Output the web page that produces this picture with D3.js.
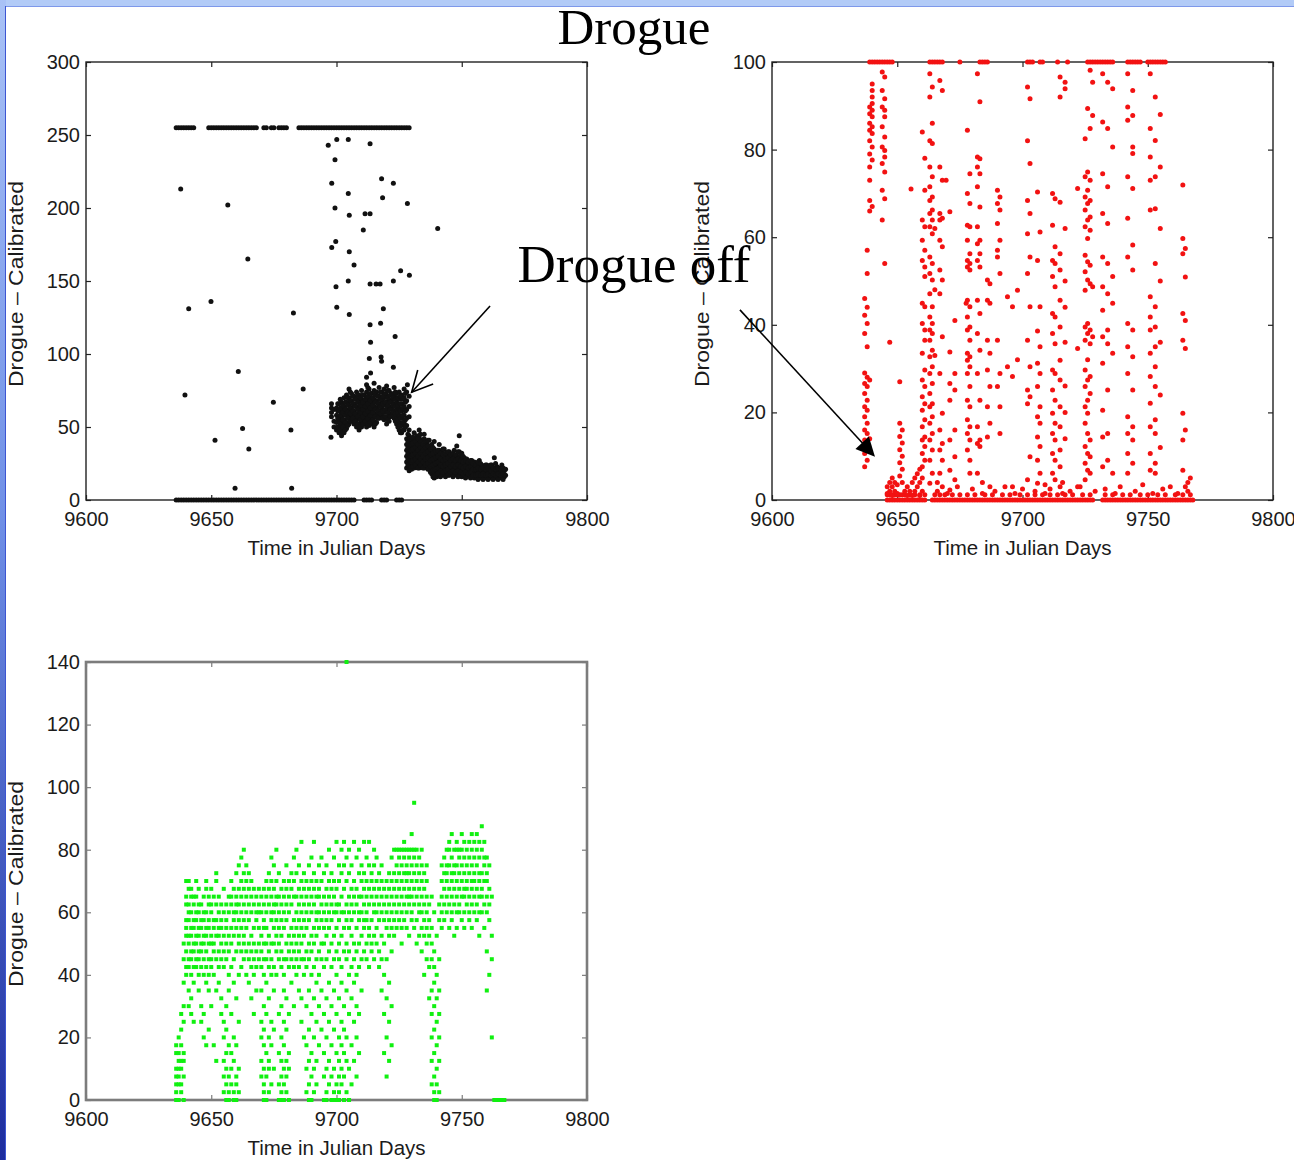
<!DOCTYPE html>
<html>
<head>
<meta charset="utf-8">
<script src="https://cdn.jsdelivr.net/npm/d3@7"></script>
<style>
  html, body { margin: 0; padding: 0; background: #fff; }
  svg { display: block; }
</style>
</head>
<body>
<svg id="fig" width="1294" height="1160"></svg>
<script>
// ---------- axis ticks ----------
const dayTicks = [9600, 9650, 9700, 9750, 9800];
const rawTicks = [0, 50, 100, 150, 200, 250, 300];
const filtTicks = [0, 20, 40, 60, 80, 100];
const levelTicks = [0, 20, 40, 60, 80, 100, 120, 140];

// ---------- raw drogue record (black) ----------
// days with saturated readings (255)
const rawHighDays = [9636,9637,9638,9639,9640,9641,9642,9643,
  9649,9650,9651,9652,9653,9654,9655,9656,9657,9658,9659,9660,9661,9662,9663,9664,9665,9666,9667,9668,
  9671,9672,9674,9675,9677,9678,9679,9680,
  9685,9686,9687,9688,9689,9690,9691,9692,9693,9694,9695,9696,9697,9698,9699,9700,9701,9702,9703,9704,
  9705,9706,9707,9708,9709,9710,9711,9712,9713,9714,9715,9716,9717,9718,9719,9720,9721,9722,9723,9724,
  9725,9726,9727,9728,9729];
// days with zero readings
const rawZeroDays = [9636,9637,9638,9639,9640,9641,9642,9643,9644,9645,9646,9647,9648,9649,9650,9651,9652,
  9653,9654,9655,9656,9657,9658,9659,9660,9661,9662,9663,9664,9665,9666,9667,9668,9669,9670,9671,9672,9673,
  9674,9675,9676,9677,9678,9679,9680,9681,9682,9683,9684,9685,9686,9687,9688,9689,9690,9691,9692,9693,9694,
  9695,9696,9697,9698,9699,9700,9701,9702,9703,9704,9705,9706,9707,9711,9712,9713,9714,9718,9719,9720,
  9724,9725,9726];
// isolated readings [day, value]
const rawScatter = [[9696.7,243],[9700.1,247],[9704.7,247],[9713.4,244],[9699.4,233],[9637.8,213],
  [9698.1,217],[9718,220],[9722.7,217],[9704.7,210],[9718.4,207],[9728.3,203],[9656.6,202],[9699.4,200],
  [9705.1,195],[9711.4,196],[9713.4,196],[9710.7,185],[9740.4,186],[9699.7,177],[9698.1,173],[9705.1,170],
  [9664.6,165],[9707,161],[9725.6,157],[9729.1,154],[9699.8,146],[9704.7,150],[9713.4,148],[9715.8,148],
  [9717.4,148],[9722.7,150],[9641,131],[9649.9,136],[9682.8,128],[9700.1,132],[9705.1,127],[9718.7,131],
  [9713.4,120],[9717.6,121],[9723.4,112],[9713.6,108],[9713.1,97],[9717.8,98],[9718,95],[9722.7,91],
  [9712,84],[9713.6,87],[9660.8,88],[9639.5,72],[9686.7,76],[9674.8,67],[9728.3,79],[9662.5,49],
  [9681.8,48],[9651.5,41],[9665,35],[9659.5,8],[9682.1,8],[9697.8,43]];
// readings after the drogue loss: [day, values...]
const rawColumns = [
  [9698,57,60,63,66],[9699,50,54,62],[9700,48,53,58,63],[9701,46,50,55,61,66],[9702,44,48,53,57,62,67],
  [9703,46,51,55,60,64,70],[9704,49,53,58,62,67,72],[9705,52,56,61,65,70,76],[9706,54,58,63,68,73],
  [9707,52,57,61,66,71],[9708,50,55,59,64,69,74],[9709,48,52,57,62,67,72],[9710,50,54,59,64,69,75],
  [9711,52,56,61,66,72],[9712,50,54,58,63,68,74,79],[9713,51,55,60,65,70,76],[9714,52,57,62,67,73],
  [9715,50,54,59,64,69,75,80],[9716,53,58,63,68,74],[9717,56,61,66,71,77],[9718,58,63,68,74],
  [9719,55,60,65,70,76],[9720,52,57,62,67,72,78],[9721,54,59,64,69,75],[9722,58,63,68,73],
  [9723,56,61,66,72,77],[9724,52,57,62,67,73],[9725,48,53,58,63,69,74],[9726,46,51,56,61,66,72],
  [9727,48,53,58,64,70,76],[9728,51,56,62,68,74],[9729,57,64,71],
  [9700.5,50,56,61,66],[9701.5,48,52,58,63,69],[9702.5,46,50,55,60,65],[9703.5,48,53,58,62,67],
  [9704.5,51,56,60,65,70],[9705.5,54,59,63,68,74],[9706.5,56,61,66,71],[9707.5,54,59,64,69],
  [9708.5,52,57,62,67,72],[9709.5,50,55,60,65,70],[9710.5,52,57,62,67,72],[9711.5,54,59,64,69],
  [9712.5,52,56,61,66,71,77],[9713.5,53,58,63,68,73],[9714.5,55,60,65,70],[9715.5,52,57,62,67,72],
  [9716.5,56,61,66,71],[9717.5,59,64,69,74],[9718.5,56,61,66,71],[9719.5,57,62,67,73],
  [9720.5,55,60,65,70,75],[9721.5,57,62,67,72],[9722.5,60,65,70],[9723.5,54,59,64,69,74],
  [9724.5,50,55,60,65,70],[9725.5,46,51,56,61,66,71],[9726.5,48,53,58,63,69],[9727.5,50,55,61,67,73],
  [9728,22,26,30,34,38,42],[9729,20,24,28,32,36,40,44,48],[9730,21,25,29,33,37,41],
  [9731,22,26,30,34,38,42,46],[9732,24,28,32,36,40,44],[9733,22,26,30,34,38,43,48],[9734,24,28,32,36,41],
  [9735,22,26,30,34,38,42,45],[9736,23,27,31,35,39],[9737,21,25,29,33,37,41],[9738,18,22,26,30,34,38],
  [9739,15,19,23,27,31,35,40],[9740,16,20,24,28,32],[9741,18,22,26,30,34,38],[9742,17,21,25,29,33],
  [9743,18,22,26,30,35],[9744,19,23,27,31],[9745,17,21,25,29,33],[9746,18,22,26,30],[9747,17,21,25,29,34],
  [9748,18,22,26,30,37],[9749,17,21,25,29,33,44],[9750,16,20,24,28,32],[9751,17,21,25,29],
  [9752,16,20,24,28],[9753,17,21,25],[9754,16,19,23,27],[9755,15,19,22,26],[9756,16,20,24],
  [9757,15,19,23,27],[9758,16,20,24],[9759,15,19,22],[9760,16,20,24],[9761,15,18,22],[9762,16,20,24],
  [9763,15,19,22,29],[9764,16,20,23],[9765,15,19,22],[9766,16,20,24],[9767,16,20],
  [9728.5,24,28,32,36,40,45],[9729.5,22,26,30,34,38,42],[9730.5,23,27,31,35,39,43],
  [9731.5,24,28,32,36,40],[9732.5,22,26,30,34,38,42],[9733.5,24,28,32,36,40,45],[9734.5,22,26,30,34,38],
  [9735.5,24,28,32,36,40],[9736.5,21,25,29,33,37,41],[9737.5,19,23,27,31,35],[9738.5,16,20,24,28,32,36],
  [9739.5,17,21,25,29,33],[9740.5,18,22,26,30,34],[9741.5,16,20,24,28,32],[9742.5,19,23,27,31,35],
  [9743.5,16,20,24,28,32],[9744.5,17,21,25,29,33],[9745.5,19,23,27,31],[9746.5,16,20,24,28,32],
  [9747.5,19,23,27,31],[9748.5,16,20,24,28,33],[9749.5,19,23,27,31],[9750.5,18,22,26,30],
  [9751.5,15,19,23,27],[9752.5,18,22,26],[9753.5,15,19,23,27],[9754.5,17,21,25],[9755.5,17,21,24],
  [9756.5,14,18,22,26],[9757.5,17,21,25],[9758.5,14,18,22],[9759.5,17,21,24],[9760.5,14,18,22],
  [9761.5,17,20,24],[9762.5,14,18,22],[9763.5,17,21,25],[9764.5,14,18,22],[9765.5,17,21],
  [9766.5,14,18,22],[9767.5,17,21]];

// ---------- filtered record (red) ----------
const filtTopDays = [9639,9640,9641,9642,9643,9644,9645,9646,9647,9648,9663,9664,9665,9666,9667,9668,9675,
  9683,9684,9685,9686,9702,9703,9704,9707,9708,9714,9718,9726,9727,9728,9729,9730,9731,9732,9733,9734,
  9735,9736,9742,9743,9744,9745,9746,9747,9750,9751,9752,9753,9754,9755,9756,9757];
const filtZeroDays = [9646,9647,9648,9649,9650,9651,9652,9653,9654,9655,9656,9657,9658,9659,9660,9661,
  9664,9665,9666,9667,9668,9669,9670,9671,9672,9673,9674,9675,9676,9677,9678,9679,9680,9681,9682,9683,
  9684,9685,9686,9687,9688,9689,9690,9691,9692,9693,9694,9695,9696,9697,9698,9699,9700,9701,9702,9703,
  9704,9705,9706,9707,9708,9709,9710,9711,9712,9713,9714,9715,9716,9717,9718,9719,9720,9721,9722,9723,
  9724,9725,9726,9727,9728,9732,9733,9734,9735,9736,9737,9738,9739,9740,9741,9742,9743,9744,9745,9746,
  9747,9748,9749,9750,9751,9752,9753,9754,9755,9756,9757,9758,9759,9760,9761,9762,9763,9764,9765,9766,
  9767,9768];
// days with a reading just above zero
const filtLowDays = [9646,9647,9648,9649,9650,9651,9652,9653,9655,9657,9659,9661,9665,9667,9669,9672,
  9675,9678,9681,9685,9688,9692,9695,9699,9702,9705,9708,9711,9714,9717,9720,9724,9727,9733,9736,9740,
  9743,9747,9750,9754,9757,9761,9764,9767];
const filtColumns = [
  [9637,46,42.2,38,29,26.6,24.3,21.3,19,16,13.7,10.6,7.6],
  [9638,57,51.7,44,40.3,35,28,25.9,22.8,20.5,17.5,15.2,12.2,9.1],
  [9639,89.7,88.2,86,84.4,82,79,76,73,68.4,66,27.4,14],
  [9640,95,93.5,92,90.5,89,87.5,85.2,83.7,80.6,77.6,67],
  [9644,97.7,93.5,89.7,85.2,80.6,76.8,70.7,63.9],
  [9645,96.6,91.6,89,87.5,82.9,79.8,78.3,74.9,68.8,54],
  [9647,36,2,4],[9651,17.5,14.5,11.5,8.5,5.5,27],[9652,16,13,10,7,4],
  [9646,1.5,3],[9648,1,3,5],[9649,2,4],[9650,1.5,3.5],[9653,2],[9654,1,3],[9655,2],[9655.5,71],
  [9656,1,4],[9657,2,5],[9658,3,6],[9659,1,4,7],
  [9660,84,63.9,59.3,54.7,44.9,40.3,33.5,27.4,23.6,20.5,16.7,13.7,10.6,7.6,2,5],
  [9661,78,70.7,62.4,57,53.2,51,44.1,38.8,36.5,29.7,25.9,22,18.3,14.4,12.2,9.1],
  [9663,97.3,92,82,76,71.5,68.4,65.4,62.4,55.5,51.7,47.1,41.8,38.8,36.5,32.7,28.9,24.3,21.3,17.5,13.7,9.1,3.8],
  [9664,94.3,86,81.4,73.8,69.2,66.2,63.9,60.8,54,50.2,44.1,40.3,38,34.2,30.4,26.6,22,19,15.2,11.4,6.1],
  [9665,62,48,33],[9666,2,4],
  [9667,95.8,76,65.4,63.9,59.3,52.5,47.1,28.9,16,11.4,6.1],
  [9668,93.5,73,64.3,57.8,50.2,37.3,19.8,12.9,9.1,3],
  [9669.5,73],[9670,1.5],[9671,65.8,33.8,26.6,22.8,13.7,6.8,2.3],[9673,41,28.9,25.1,16,9.9,4.6],
  [9674,3],[9677.5,44.9],
  [9678,84.4,70,62.7,59.3,54.7,53.2,45.6,41.8,38.8,33.5,31.9,28.9,22.8,18.3,15.2,11.4],
  [9679,74.5,67.7,62.4,56.2,54,52.5,44.1,39.5,36.5,32.7,30.4,25.9,21.3,16.7,13.7,9.1,6.1],
  [9680,2.5],
  [9682,97.3,78.3,76,71.5,62.4,58.5,54.7,45.6,38,28.9,16.7,12.9,6.1],
  [9683,90.9,77.9,74.5,66.9,59.3,56.2,53.2,42.6,34.2,22.8,13.7,12.2],
  [9684,1.5,4],
  [9686,50.2,45.6,36.5,29.7,21.3,14.4],[9687,49.4,44.9,33.5,25.9,17.5,3],
  [9689,2],[9690,70.7,67.7,63.1,57,55.5,36.5,25.9],[9691,69.2,66.2,59.3,51.7,28.9,21.3,15.2],
  [9693,3],[9694,46.4,30.4],[9696,44.1,28.2,3],[9697,1.5],[9698,47.9,32],[9700,2.5],
  [9702,94.3,82,68.4,60.8,51.7,36.5,25.1,22,4.6],[9703,91.6,76.8,65.4,55.5,44.1,30.4,23.6,9.9],
  [9705,2],[9706,70.3,54.7,38.6,31.2,25.9,19,14.4,9.1,3.8],[9707,61.2,44.1,35,28.9,21.3,17.5,12.2,6.1],
  [9709,1.5,3.5],[9711,2.5],
  [9712,70,62.7,54.7,51,42.6,38,29.7,25.1,19.8,15.2,10.6,6.1],
  [9713,68.8,57.8,54,48.7,41.8,35.7,28.9,22.8,17.5,13.7,9.1,4.6],
  [9715,96.6,92,68,56.2,52.5,45.6,39.5,31.9,27.4,21.3,16.7,11.4,7.6,3],
  [9716,1.5,4],[9717,95.4,93.9,62,50,44,36,26,20,14],[9719,2],
  [9722,71.1,34.6,3],[9723,3],
  [9725,82.5,73.8,69.2,66.2,62.4,55.9,52.1,47.9,39.5,36.5,29.7,25.9,21.3,17.5,12.2,8.4,4.6],
  [9726,89.4,74.9,70.7,67.7,63.9,59.7,54.4,50.2,40.3,38,32,27.4,22.8,19.8,15.2,10.6,6.8],
  [9727,98.1,84.8,73,68.4,64.6,61.6,53.6,49.4,38.8,35.7,28.2,24.3,13.7,9.9,6.1],
  [9728,95.4,87.8,48.7,37.3],[9729,2],
  [9732,97.3,86.3,74.5,65.4,55.5,48.7,43.3,37.3,31.2,20.5,14.4,7.6],
  [9733,2.5],[9734,95.4,84.8,71.5,63.1,54,47.1,38.8,35.7,25.1,15.2,9.1],
  [9736,93.9,80.6,51,44.9,33.5,6.1],[9737,1.5],[9739,3],
  [9742,97.3,89.7,86.7,73.8,64.3,55.5,40.3,35,28.9,19,15.2,10.6,6.1],
  [9744,93.5,87.8,80.6,79.1,71.1,58.2,52.5,38.8,32.7,25.1,16.7,13.7,8.4],
  [9745,2],[9748,3.5],
  [9751,97.3,84.8,78.3,73,66.2,46.4,41.8,38.8,33.5,28.2,22.1,16.7,10.6,6.8],
  [9752,1.5],
  [9753,92,82.1,73.8,66.5,54,44.1,39.5,35,30.4,25.9,18.3,15.2,8.4,6.1],
  [9755,88,76,62,50,36,24,12],[9756,2.5],[9759,3],[9762,1.5],
  [9764,71.9,59.7,56.2,42.6,36.5,19.8,13.7,6.8],[9765,57.4,50.9,41,34.6,16,3],[9766,2,4],[9767,5]];

// ---------- level record (green): [day, values...] ----------
const levelColumns = [
  [9636,0,2.5,5,7.5,10,15,17.5],[9637,0,5,7.5,10,12.5,15,20],[9638,2.5,5,10,12.5,17.5,22.5,27.5],
  [9639,0,7.5,12.5,15,25,30,37.5,45,50],[9640,40,42.5,47.5,52.5,55,57.5,62.5,65,70],
  [9641,30,35,42.5,45,50,52.5,57.5,60,62.5,67.5,70],[9642,27.5,32.5,40,45,47.5,52.5,55,60,65,67.5],
  [9643,25,37.5,42.5,47.5,50,55,57.5,62.5,65],[9644,42.5,45,50,52.5,57.5,60,65,70],
  [9645,35,40,45,47.5,52.5,55,60,62.5,67.5],[9646,25,30,42.5,47.5,50,55,57.5,62.5],
  [9647,20,27.5,40,45,50,52.5,57.5,60,65],[9648,17.5,37.5,42.5,47.5,52.5,55,60,67.5,70],
  [9649,22.5,35,40,45,50,55,57.5,62.5,65],[9650,30,42.5,45,50,52.5,60,62.5,67.5],
  [9651,17.5,40,47.5,50,55,57.5,65],[9652,12.5,35,45,52.5,57.5,62.5,70,72.5],
  [9653,37.5,42.5,47.5,52.5,55,60,65],[9654,27.5,32.5,45,50,55,57.5,62.5],
  [9655,2.5,7.5,12.5,20,25,42.5,47.5,52.5,60,67.5],[9656,0,5,10,15,22.5,30,45,50,55,57.5,62.5],
  [9657,0,2.5,7.5,17.5,35,40,47.5,52.5,60,65],[9658,5,10,15,27.5,42.5,50,55,62.5,65,70],
  [9659,0,2.5,12.5,20,37.5,45,52.5,57.5,60,67.5],[9660,0,5,7.5,17.5,32.5,47.5,55,60,62.5,65,72.5],
  [9661,2.5,10,25,40,50,52.5,57.5,62.5,67.5,75],[9662,42.5,47.5,55,60,65,70,77.5],
  [9663,45,50,52.5,57.5,62.5,67.5,72.5,80],[9664,40,47.5,55,60,65,70,75],
  [9665,37.5,45,50,57.5,62.5,67.5,72.5],[9666,32.5,42.5,47.5,52.5,60,65,70],
  [9667,27.5,40,45,50,55,62.5,67.5],[9668,35,42.5,47.5,57.5,60,65],[9669,45,50,55,60,62.5,67.5],
  [9670,7.5,12.5,20,25,35,42.5,47.5,52.5,60,65],
  [9671,0,2.5,5,10,17.5,22.5,30,40,45,50,55,57.5,62.5,67.5],
  [9672,0,7.5,15,27.5,37.5,45,50,55,60,65,70],[9673,2.5,10,12.5,20,32.5,42.5,47.5,52.5,62.5,67.5,72.5],
  [9674,5,17.5,25,40,45,50,57.5,60,65,70,77.5],[9675,10,22.5,35,42.5,50,55,60,62.5,67.5,75],
  [9676,40,47.5,52.5,57.5,62.5,65,70,80],[9677,0,5,15,27.5,45,50,55,60,65,72.5],
  [9678,0,2.5,7.5,12.5,20,30,42.5,47.5,52.5,57.5,62.5,67.5],[9679,0,5,10,17.5,25,35,40,45,55,60,65,70],
  [9680,2.5,7.5,12.5,22.5,32.5,45,50,57.5,62.5,67.5,75],[9681,0,10,15,27.5,42.5,47.5,52.5,60,65,70],
  [9682,37.5,45,50,55,62.5,67.5,72.5],[9683,30,42.5,47.5,52.5,57.5,65,70,77.5],
  [9684,40,45,50,55,60,65,72.5,80],[9685,35,42.5,47.5,52.5,57.5,62.5,67.5,75],
  [9686,25,32.5,45,50,55,60,65,70,82.5],[9687,20,40,45,52.5,57.5,62.5,67.5,72.5],
  [9688,2.5,10,17.5,30,42.5,47.5,55,60,65,70],[9689,0,5,12.5,22.5,35,45,50,57.5,62.5,67.5,75],
  [9690,0,7.5,15,27.5,40,47.5,52.5,60,65,70,77.5],[9691,2.5,10,20,32.5,42.5,50,55,62.5,67.5,72.5,82.5],
  [9692,5,12.5,25,37.5,45,52.5,57.5,60,65,70],[9693,17.5,30,40,47.5,55,60,65,67.5,75],
  [9694,22.5,35,45,50,57.5,62.5,70,77.5],[9695,0,7.5,15,27.5,42.5,50,55,60,65,72.5],
  [9696,0,2.5,10,20,32.5,45,52.5,57.5,62.5,67.5,75],[9697,5,12.5,25,37.5,47.5,55,60,65,70,80],
  [9698,0,7.5,17.5,30,42.5,50,57.5,62.5,67.5,72.5],[9699,0,2.5,10,22.5,35,45,52.5,60,65,70,77.5],
  [9700,0,5,15,27.5,40,47.5,55,60,62.5,67.5,82.5],[9701,0,2.5,7.5,12.5,20,32.5,45,50,57.5,62.5,70,75],
  [9702,5,10,17.5,25,37.5,42.5,52.5,60,65,72.5,80],[9703,0,7.5,15,22.5,30,47.5,55,60,67.5,75,82.5],
  [9704,2.5,12.5,20,35,45,50,57.5,62.5,70,77.5,140],[9705,0,10,27.5,40,47.5,55,60,65,72.5,80],
  [9706,5,17.5,32.5,42.5,52.5,57.5,62.5,67.5,75],[9707,12.5,25,37.5,45,50,60,65,70,82.5],
  [9708,7.5,20,30,40,47.5,55,62.5,67.5,77.5],[9709,15,27.5,42.5,50,57.5,60,65,72.5,80],
  [9710,35,45,52.5,60,65,70,75],[9711,47.5,55,57.5,62.5,67.5,72.5,82.5],[9712,45,50,57.5,60,65,70,77.5],
  [9713,42.5,52.5,55,62.5,67.5,75,82.5],[9714,47.5,50,57.5,65,70,72.5],[9715,45,52.5,60,62.5,67.5,75,80],
  [9716,50,55,60,65,70,77.5],[9717,42.5,47.5,57.5,62.5,67.5,72.5],[9718,35,45,52.5,60,65,70,75],
  [9719,15,27.5,40,50,57.5,62.5,67.5],[9720,7.5,20,32.5,45,55,60,65,70],
  [9721,12.5,25,37.5,52.5,57.5,62.5,67.5,72.5],[9722,17.5,30,47.5,55,60,65,70,77.5],
  [9723,52.5,57.5,62.5,67.5,72.5,80],[9724,55,60,65,70,75,80],[9725,57.5,62.5,67.5,72.5,77.5,80],
  [9726,50,55,60,65,70,75,80],[9727,57.5,62.5,67.5,72.5,77.5,80,82.5],[9728,55,60,65,70,72.5,75,80],
  [9729,52.5,62.5,65,67.5,72.5,77.5,80],[9730,57.5,60,65,70,75,80,85],[9731,55,62.5,67.5,72.5,77.5,80,95],
  [9732,50,57.5,65,70,75,80],[9733,52.5,60,62.5,67.5,72.5,77.5],[9734,47.5,55,60,65,70,75,80],
  [9735,40,52.5,57.5,62.5,67.5,72.5],[9736,45,50,55,60,65,70,75],[9737,32.5,42.5,52.5,57.5,62.5],
  [9738,5,12.5,20,27.5,35,45,50,55,65],[9739,0,2.5,7.5,15,22.5,30,37.5,42.5,47.5,60],
  [9740,0,5,10,17.5,25,32.5,40,52.5],[9741,2.5,12.5,20,27.5,35,45,57.5,62.5],
  [9742,55,60,65,70,75],[9743,57.5,62.5,67.5,72.5,77.5],[9744,60,65,70,72.5,75,80],
  [9745,55,62.5,67.5,75,80,82.5],[9746,57.5,60,65,70,72.5,77.5,85],[9747,52.5,62.5,67.5,72.5,75,80],
  [9748,55,60,65,70,75,80,82.5],[9749,60,62.5,67.5,72.5,77.5,80],[9750,57.5,65,70,75,80,85],
  [9751,55,60,65,67.5,72.5,77.5,82.5],[9752,62.5,67.5,70,75,80],[9753,57.5,60,65,72.5,77.5,82.5],
  [9754,55,62.5,67.5,70,75,80,85],[9755,60,65,70,72.5,77.5,82.5],[9756,57.5,62.5,67.5,75,80,85],
  [9757,52.5,60,65,70,72.5,77.5,82.5],[9758,60,65,67.5,72.5,80,87.5],[9759,55,62.5,70,75,77.5,82.5],
  [9760,35,47.5,60,65,70,72.5,77.5],[9761,40,57.5,62.5,67.5,75],[9762,20,45,52.5,65],
  [9763,0],[9764,0],[9765,0],[9766,0],[9767,0]];

// ---------- annotation anchors (data units of their panels) ----------
const rawArrow = { from: [9761.3, 132.9], to: [9730, 73.8] };
const filtArrow = { from: [9587.2, 43.4], to: [9641.1, 9.9] };

// ---------- helpers ----------
const fromColumns = cols => cols.flatMap(([d, ...vs]) => vs.map(v => ({ d, v })));
const fromDays = (days, v) => days.map(d => ({ d, v }));
const fromPairs = pairs => pairs.map(([d, v]) => ({ d, v }));

const svg = d3.select('#fig');
const W = 501, H = 438;
const SANS = '"Liberation Sans", Arial, Helvetica, sans-serif';
const SERIF = '"Liberation Serif", "Times New Roman", Times, serif';

// slide frame: light top band and blue left band
const defs = svg.append('defs');
const lg = defs.append('linearGradient').attr('id', 'leftBand')
  .attr('x1', 0).attr('y1', 0).attr('x2', 0).attr('y2', 1);
lg.append('stop').attr('offset', '0%').attr('stop-color', '#a9c2f6');
lg.append('stop').attr('offset', '45%').attr('stop-color', '#6f8fe6');
lg.append('stop').attr('offset', '100%').attr('stop-color', '#1c2c9e');
svg.append('rect').attr('x', 0).attr('y', 0).attr('width', 1294).attr('height', 7).attr('fill', '#b2cbf7');
svg.append('line').attr('x1', 0).attr('x2', 1294).attr('y1', 6.5).attr('y2', 6.5)
  .attr('stroke', '#7e98ea').attr('stroke-width', 1);
svg.append('rect').attr('x', 0).attr('y', 0).attr('width', 6).attr('height', 1160).attr('fill', 'url(#leftBand)');
svg.append('line').attr('x1', 5.5).attr('x2', 5.5).attr('y1', 6).attr('y2', 1160)
  .attr('stroke', '#3d56d2').attr('stroke-width', 1);

function drawPanel(cfg) {
  const g = svg.append('g').attr('transform', `translate(${cfg.left},${cfg.top})`);
  const x = d3.scaleLinear().domain([9600, 9800]).range([0, W]);
  const y = d3.scaleLinear().domain([0, cfg.ymax]).range([H, 0]);

  g.append('rect').attr('width', W).attr('height', H).attr('fill', '#fff');

  const styleAxis = sel => {
    sel.select('.domain').remove();
    sel.selectAll('line').attr('stroke', cfg.frame).attr('stroke-width', 1.2);
    sel.selectAll('text').attr('fill', '#1b1b1b')
      .attr('font-family', SANS).attr('font-size', 20);
  };
  g.append('g').attr('transform', `translate(0,${H})`)
    .call(d3.axisBottom(x).tickValues(dayTicks).tickSize(-5).tickPadding(12).tickFormat(d3.format('d')))
    .call(styleAxis);
  g.append('g')
    .call(d3.axisLeft(y).tickValues(cfg.yTicks).tickSize(-5).tickPadding(6).tickFormat(d3.format('d')))
    .call(styleAxis);
  g.append('g')
    .call(d3.axisTop(x).tickValues(dayTicks).tickSize(-5).tickFormat(''))
    .call(styleAxis);
  g.append('g').attr('transform', `translate(${W},0)`)
    .call(d3.axisRight(y).tickValues(cfg.yTicks).tickSize(-5).tickFormat(''))
    .call(styleAxis);

  g.append('rect').attr('width', W).attr('height', H).attr('fill', 'none')
    .attr('stroke', cfg.frame).attr('stroke-width', cfg.frameW);

  // axis titles
  g.append('text').attr('x', W / 2).attr('y', H + 55).attr('text-anchor', 'middle')
    .attr('font-family', SANS).attr('font-size', 20.5).attr('fill', '#1b1b1b')
    .text('Time in Julian Days');
  g.append('text')
    .attr('transform', `translate(${cfg.ylabX},${H / 2 + 3}) rotate(-90)`)
    .attr('text-anchor', 'middle')
    .attr('font-family', SANS).attr('font-size', 19.5).attr('fill', '#1b1b1b')
    .attr('textLength', 206).attr('lengthAdjust', 'spacingAndGlyphs')
    .text('Drogue \u2013 Calibrated');

  // data marks
  const pts = g.append('g');
  if (cfg.shape === 'square') {
    pts.selectAll('rect').data(cfg.points).join('rect')
      .attr('x', p => x(p.d) - 2).attr('y', p => y(p.v) - 2)
      .attr('width', 4).attr('height', 4).attr('fill', cfg.color);
  } else {
    pts.selectAll('circle').data(cfg.points).join('circle')
      .attr('cx', p => x(p.d)).attr('cy', p => y(p.v))
      .attr('r', cfg.r).attr('fill', cfg.color);
  }
  return { x: v => cfg.left + x(v), y: v => cfg.top + y(v) };
}

const rawPts = [
  ...fromDays(rawHighDays, 255), ...fromDays(rawZeroDays, 0),
  ...fromPairs(rawScatter), ...fromColumns(rawColumns)];
const filtPts = [
  ...fromDays(filtTopDays, 100), ...fromDays(filtZeroDays, 0), ...fromDays(filtLowDays, 1.2),
  ...fromColumns(filtColumns)];
const levelPts = fromColumns(levelColumns);

const p1 = drawPanel({ left: 86, top: 62, ymax: 300, yTicks: rawTicks, points: rawPts,
  color: '#111', r: 2.5, shape: 'circle', frame: '#222', frameW: 1.4, ylabX: -63 });
const p2 = drawPanel({ left: 772, top: 62, ymax: 100, yTicks: filtTicks, points: filtPts,
  color: '#f21212', r: 2.5, shape: 'circle', frame: '#222', frameW: 1.4, ylabX: -63 });
const p3 = drawPanel({ left: 86, top: 662, ymax: 140, yTicks: levelTicks, points: levelPts,
  color: '#10f010', shape: 'square', frame: '#7c7c7c', frameW: 2.6, ylabX: -63 });

// ---------- annotations ----------
svg.append('text').attr('x', 634).attr('y', 44).attr('text-anchor', 'middle')
  .attr('font-family', SERIF).attr('font-size', 51).attr('fill', '#000').text('Drogue');
svg.append('text').attr('x', 634).attr('y', 282).attr('text-anchor', 'middle')
  .attr('font-family', SERIF).attr('font-size', 53).attr('fill', '#000').text('Drogue off');

function arrow(panel, spec, filled) {
  const x0 = panel.x(spec.from[0]), y0 = panel.y(spec.from[1]);
  const x1 = panel.x(spec.to[0]), y1 = panel.y(spec.to[1]);
  const a = Math.atan2(y0 - y1, x0 - x1);
  const len = filled ? 21 : 23, spread = filled ? 0.45 : 0.47;
  const b1 = [x1 + len * Math.cos(a - spread), y1 + len * Math.sin(a - spread)];
  const b2 = [x1 + len * Math.cos(a + spread), y1 + len * Math.sin(a + spread)];
  const lineEnd = filled ? [x1 + len * 0.8 * Math.cos(a), y1 + len * 0.8 * Math.sin(a)] : [x1, y1];
  svg.append('line').attr('x1', x0).attr('y1', y0).attr('x2', lineEnd[0]).attr('y2', lineEnd[1])
    .attr('stroke', '#000').attr('stroke-width', 1.6);
  if (filled) {
    svg.append('path').attr('d', `M${x1},${y1}L${b1[0]},${b1[1]}L${b2[0]},${b2[1]}Z`).attr('fill', '#000');
  } else {
    svg.append('path').attr('d', `M${b1[0]},${b1[1]}L${x1},${y1}L${b2[0]},${b2[1]}`)
      .attr('fill', 'none').attr('stroke', '#000').attr('stroke-width', 1.6);
  }
}
arrow(p1, rawArrow, false);
arrow(p2, filtArrow, true);
</script>
</body>
</html>
